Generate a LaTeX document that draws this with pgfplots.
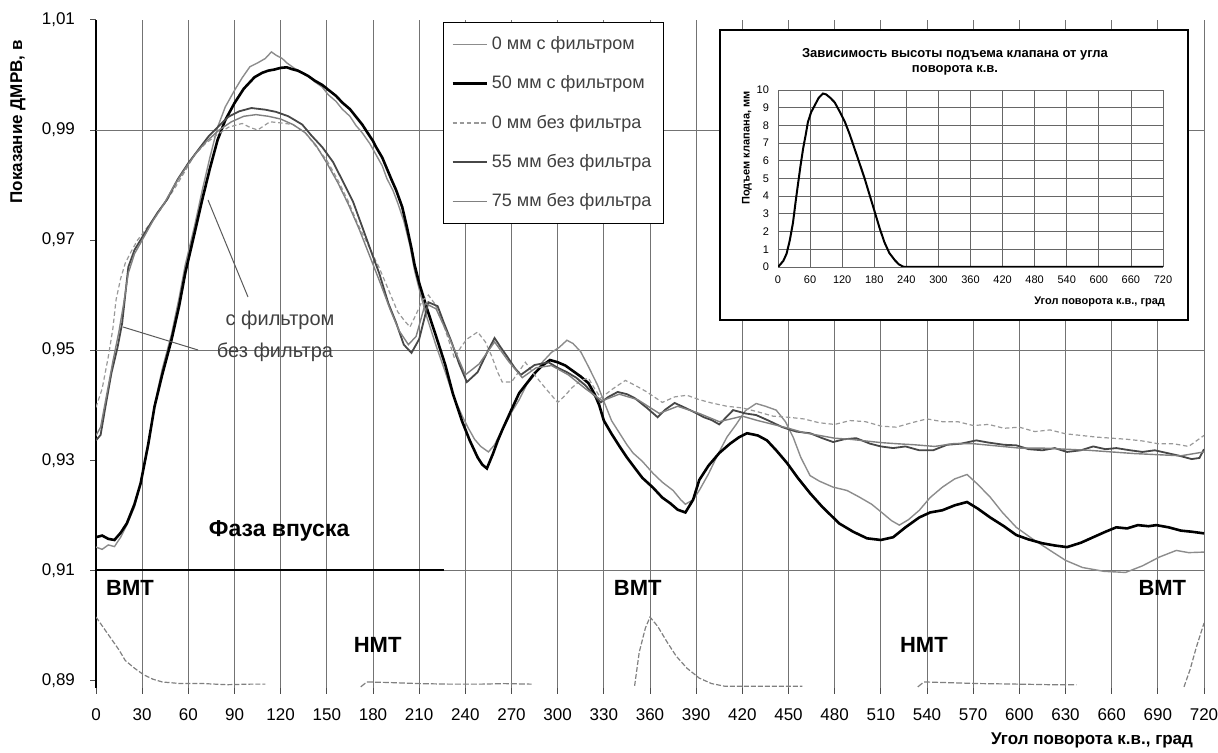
\documentclass[border=0pt]{standalone}
\usepackage{fontspec}
\setmainfont{Liberation Sans}
\usepackage{pgfplots}
\pgfplotsset{compat=1.18}
\begin{document}
\begin{tikzpicture}
\begin{axis}[
  name=main,
  at={(0pt,0pt)}, anchor=south west,
  scale only axis, width=554pt, height=334pt,
  xmin=0, xmax=720, ymin=0.8886, ymax=1.01,
  xtick={0,30,...,720},
  ytick={0.89,0.91,0.93,0.95,0.97,0.99,1.01},
  axis lines*=left,
  x axis line style={draw=none},
  y axis line style={black, line width=0.8pt},
  tick align=outside,
  major tick length=3pt,
  tick style={black!70, line width=0.5pt},
  xmajorgrids,
  grid style={black!55, line width=0.5pt},
  /pgf/number format/assume math mode=true,
  x tick label style={font=\fontsize{8.5}{10}\selectfont, yshift=-4pt, /pgf/number format/1000 sep={}},
  y tick label style={font=\fontsize{8.5}{10}\selectfont, xshift=-4pt,
     /pgf/number format/fixed, /pgf/number format/fixed zerofill,
     /pgf/number format/precision=2, /pgf/number format/use comma},
  legend style={at={(rel axis cs:0.313,0.997)}, anchor=north west, draw=black, fill=white,
     font=\fontsize{9}{10.8}\selectfont, row sep=7.6pt, inner xsep=4pt, inner ysep=5pt, text=black!75},
  legend cell align=left,
]
% horizontal grid lines
\draw[black!55, line width=0.5pt] (axis cs:0,0.99) -- (axis cs:720,0.99);
\draw[black!55, line width=0.5pt] (axis cs:0,0.95) -- (axis cs:720,0.95);
\draw[black!55, line width=0.5pt] (axis cs:0,0.91) -- (axis cs:720,0.91);

% 0 mm with filter
\addplot[black!45, line width=0.7pt] coordinates {
(0,0.9142)(4,0.9138)(8,0.9146)(12,0.9143)(16,0.9160)(20,0.9182)(25,0.9215)(29,0.9258)(34,0.9325)(38,0.9400)(43,0.9465)(49,0.9528)(54,0.9595)(58,0.9655)(64,0.9725)(69,0.9790)(74,0.9850)(79,0.9905)(84,0.9942)(90,0.9972)(95,0.9995)(100,1.0015)(105,1.0022)(110,1.0030)(114,1.0042)(117,1.0036)(121,1.0030)(124,1.0022)(129,1.0012)(134,1.0005)(138,0.9998)(142,0.9988)(147,0.9978)(151,0.9964)(156,0.9952)(160,0.9938)(165,0.9925)(169,0.9908)(173,0.9895)(178,0.9875)(182,0.9855)(186,0.9835)(189,0.9812)(193,0.9790)(196,0.9768)(200,0.9735)(204,0.9690)(207,0.9645)(211,0.9600)(215,0.9560)(221,0.9508)(227,0.9460)(232,0.9418)(238,0.9380)(242,0.9358)(246,0.9338)(250,0.9325)(255,0.9315)(259,0.9328)(262,0.9345)(266,0.9365)(270,0.9387)(275,0.9410)(280,0.9438)(285,0.9455)(290,0.9478)(296,0.9496)(301,0.9505)(306,0.9518)(310,0.9512)(315,0.9497)(320,0.9470)(326,0.9436)(331,0.9400)(335,0.9372)(340,0.9350)(345,0.9328)(349,0.9313)(355,0.9298)(362,0.9276)(368,0.9260)(375,0.9245)(380,0.9228)(383,0.9220)(388,0.9228)(392,0.9245)(398,0.9275)(404,0.9310)(410,0.9342)(416,0.9365)(422,0.9390)(429,0.9403)(435,0.9398)(442,0.9391)(448,0.9370)(453,0.9342)(458,0.9305)(464,0.9272)(470,0.9262)(479,0.9251)(488,0.9245)(496,0.9233)(504,0.9220)(511,0.9204)(517,0.9190)(522,0.9182)(528,0.9192)(535,0.9209)(542,0.9232)(550,0.9251)(558,0.9266)(566,0.9274)(573,0.9256)(581,0.9233)(589,0.9205)(598,0.9178)(608,0.9158)(620,0.9136)(630,0.9118)(641,0.9105)(655,0.9098)(669,0.9096)(680,0.9108)(691,0.9124)(702,0.9136)(710,0.9132)(720,0.9133)};
\addlegendentry{0 мм с фильтром}

% 50 mm with filter
\addplot[black, line width=1.3pt] coordinates {
(0,0.9160)(4,0.9163)(8,0.9157)(12,0.9155)(16,0.9168)(20,0.9185)(25,0.9220)(29,0.9258)(34,0.9330)(38,0.9397)(43,0.9455)(49,0.9518)(54,0.9580)(58,0.9640)(64,0.9712)(69,0.9773)(74,0.9830)(79,0.9882)(84,0.9918)(90,0.9949)(96,0.9975)(103,0.9996)(108,1.0004)(112,1.0008)(116,1.0010)(120,1.0013)(124,1.0014)(127,1.0011)(131,1.0008)(134,1.0004)(138,0.9998)(142,0.9990)(147,0.9982)(151,0.9973)(156,0.9962)(160,0.9950)(165,0.9938)(169,0.9924)(173,0.9910)(176,0.9897)(180,0.9880)(182,0.9869)(186,0.9850)(189,0.9830)(192,0.9810)(195,0.9791)(199,0.9760)(202,0.9724)(205,0.9685)(207,0.9655)(210,0.9622)(215,0.9576)(221,0.9525)(227,0.9473)(232,0.9420)(238,0.9370)(243,0.9335)(248,0.9305)(251,0.9292)(254,0.9285)(258,0.9312)(261,0.9335)(264,0.9355)(270,0.9392)(275,0.9422)(280,0.9440)(285,0.9458)(290,0.9472)(295,0.9482)(300,0.9478)(305,0.9472)(310,0.9462)(315,0.9452)(320,0.9440)(324,0.9420)(327,0.9400)(330,0.9372)(335,0.9348)(340,0.9326)(345,0.9305)(349,0.9290)(355,0.9268)(362,0.9250)(368,0.9232)(373,0.9222)(378,0.9210)(383,0.9205)(388,0.9228)(392,0.9264)(398,0.9290)(405,0.9313)(412,0.9330)(418,0.9342)(423,0.9349)(430,0.9345)(436,0.9336)(442,0.9318)(449,0.9295)(456,0.9268)(464,0.9240)(472,0.9215)(483,0.9185)(492,0.9170)(501,0.9158)(510,0.9155)(518,0.9160)(526,0.9178)(535,0.9196)(542,0.9205)(550,0.9209)(558,0.9218)(566,0.9224)(573,0.9212)(581,0.9196)(590,0.9180)(598,0.9164)(606,0.9156)(615,0.9149)(623,0.9145)(631,0.9142)(640,0.9150)(648,0.9160)(656,0.9170)(663,0.9178)(670,0.9176)(677,0.9182)(684,0.9180)(689,0.9182)(697,0.9178)(705,0.9172)(712,0.9170)(720,0.9167)};
\addlegendentry{50 мм с фильтром}

% 0 mm without filter
\addplot[black!40, line width=0.6pt, dash pattern=on 2.2pt off 1.4pt] coordinates {
(0,0.9396)(4,0.9430)(8,0.9488)(11,0.9540)(13,0.9591)(16,0.9630)(19,0.9658)(23,0.9680)(27,0.9700)(33,0.9722)(40,0.9748)(46,0.9772)(52,0.9798)(58,0.9826)(64,0.9855)(71,0.9875)(78,0.9890)(86,0.9905)(95,0.9912)(100,0.9905)(105,0.9900)(113,0.9915)(120,0.9913)(128,0.9910)(136,0.9895)(143,0.9870)(150,0.9845)(157,0.9810)(164,0.9770)(170,0.9730)(177,0.9690)(184,0.9650)(190,0.9610)(196,0.9570)(200,0.9555)(204,0.9542)(208,0.9565)(212,0.9590)(216,0.9600)(220,0.9585)(226,0.9545)(233,0.9485)(237,0.9505)(241,0.9520)(248,0.9533)(253,0.9515)(257,0.9490)(261,0.9460)(264,0.9442)(270,0.9442)(275,0.9462)(279,0.9478)(285,0.9455)(292,0.9431)(300,0.9405)(305,0.9418)(309,0.9431)(315,0.9445)(320,0.9449)(324,0.9430)(328,0.9413)(336,0.9430)(344,0.9445)(351,0.9435)(358,0.9424)(368,0.9405)(376,0.9415)(384,0.9418)(392,0.9410)(400,0.9404)(410,0.9398)(420,0.9395)(430,0.9388)(440,0.9380)(450,0.9378)(460,0.9375)(470,0.9368)(480,0.9365)(490,0.9372)(500,0.9370)(510,0.9362)(520,0.9360)(530,0.9368)(540,0.9375)(550,0.9370)(560,0.9370)(570,0.9363)(580,0.9365)(590,0.9358)(600,0.9360)(610,0.9352)(620,0.9355)(630,0.9348)(640,0.9345)(650,0.9342)(660,0.9340)(670,0.9338)(680,0.9335)(690,0.9330)(700,0.9330)(710,0.9325)(720,0.9345)};
\addlegendentry{0 мм без фильтра}

% 55 mm without filter
\addplot[black!72, line width=0.9pt] coordinates {
(0,0.9336)(3,0.9346)(6,0.9395)(10,0.9458)(14,0.9505)(17,0.9549)(19,0.9600)(21,0.9651)(25,0.9682)(30,0.9705)(35,0.9728)(40,0.9750)(46,0.9773)(53,0.9810)(60,0.9840)(67,0.9866)(73,0.9888)(80,0.9908)(86,0.9924)(93,0.9934)(101,0.9940)(110,0.9937)(117,0.9933)(125,0.9925)(134,0.9910)(140,0.9890)(147,0.9869)(154,0.9842)(160,0.9809)(167,0.9770)(173,0.9724)(180,0.9670)(184,0.9640)(190,0.9585)(195,0.9550)(200,0.9510)(205,0.9495)(210,0.9520)(216,0.9587)(222,0.9580)(226,0.9550)(231,0.9515)(236,0.9475)(241,0.9442)(248,0.9460)(254,0.9495)(259,0.9522)(263,0.9505)(268,0.9485)(272,0.9468)(276,0.9455)(285,0.9473)(294,0.9478)(300,0.9468)(306,0.9460)(312,0.9450)(318,0.9436)(323,0.9420)(328,0.9405)(333,0.9415)(339,0.9424)(345,0.9420)(350,0.9413)(358,0.9395)(365,0.9378)(370,0.9392)(376,0.9404)(383,0.9395)(389,0.9387)(395,0.9378)(400,0.9373)(405,0.9365)(414,0.9391)(422,0.9385)(429,0.9382)(437,0.9372)(446,0.9360)(455,0.9352)(464,0.9349)(472,0.9340)(479,0.9333)(486,0.9338)(494,0.9340)(503,0.9330)(510,0.9325)(518,0.9322)(526,0.9325)(535,0.9318)(544,0.9318)(553,0.9328)(562,0.9330)(572,0.9336)(580,0.9332)(590,0.9328)(598,0.9327)(606,0.9320)(615,0.9318)(623,0.9322)(631,0.9315)(640,0.9318)(648,0.9325)(656,0.9320)(663,0.9322)(672,0.9318)(680,0.9315)(688,0.9318)(696,0.9313)(704,0.9308)(712,0.9302)(717,0.9304)(720,0.9320)};
\addlegendentry{55 мм без фильтра}

% 75 mm without filter
\addplot[black!50, line width=0.7pt] coordinates {
(0,0.9345)(3,0.9360)(7,0.9420)(11,0.9480)(15,0.9535)(18,0.9585)(21,0.9640)(25,0.9675)(30,0.9700)(37,0.9735)(44,0.9765)(51,0.9800)(58,0.9830)(65,0.9858)(72,0.9880)(80,0.9900)(88,0.9915)(96,0.9925)(104,0.9928)(112,0.9925)(120,0.9920)(128,0.9910)(136,0.9895)(143,0.9872)(150,0.9840)(157,0.9805)(164,0.9765)(171,0.9720)(178,0.9670)(185,0.9620)(191,0.9575)(197,0.9535)(203,0.9510)(208,0.9525)(214,0.9585)(221,0.9575)(230,0.9520)(240,0.9455)(249,0.9475)(259,0.9515)(268,0.9480)(277,0.9450)(286,0.9468)(296,0.9472)(307,0.9455)(318,0.9430)(329,0.9408)(340,0.9420)(352,0.9410)(366,0.9385)(378,0.9398)(392,0.9385)(405,0.9370)(420,0.9380)(430,0.9372)(440,0.9365)(450,0.9358)(460,0.9350)(470,0.9345)(480,0.9340)(490,0.9338)(500,0.9335)(510,0.9332)(520,0.9330)(532,0.9328)(545,0.9325)(557,0.9330)(570,0.9330)(585,0.9326)(600,0.9322)(615,0.9322)(630,0.9320)(645,0.9318)(660,0.9315)(675,0.9312)(690,0.9310)(705,0.9308)(720,0.9315)};
\addlegendentry{75 мм без фильтра}

% intake phase line
\addplot[black, line width=1pt, forget plot] coordinates {(0,0.91)(226,0.91)};

% TDC marker curve (bottom)
\addplot[black!50, line width=0.6pt, dash pattern=on 2.5pt off 1pt, forget plot] coordinates {
(0,0.9015)(5,0.8995)(10,0.8975)(15,0.8955)(19,0.8936)(25,0.8922)(31,0.8910)(37,0.8902)(43,0.8897)(55,0.8894)(70,0.8894)(85,0.8892)(100,0.8893)(110,0.8893)};
\addplot[black!50, line width=0.6pt, dash pattern=on 3pt off 1pt, forget plot] coordinates {
(172,0.8888)(176,0.8897)(190,0.8896)(210,0.8894)(230,0.8893)(250,0.8893)(265,0.8894)(283,0.8893)};
\addplot[black!50, line width=0.6pt, dash pattern=on 2.5pt off 1pt, forget plot] coordinates {
(350,0.8890)(353,0.8951)(357,0.8995)(360,0.9015)(365,0.8998)(371,0.8970)(377,0.8944)(384,0.8922)(392,0.8904)(400,0.8894)(409,0.8889)(430,0.8889)(459,0.8889)};
\addplot[black!50, line width=0.6pt, dash pattern=on 3pt off 1pt, forget plot] coordinates {
(534,0.8888)(538,0.8897)(550,0.8896)(575,0.8894)(600,0.8893)(620,0.8892)(637,0.8892)};
\addplot[black!50, line width=0.6pt, dash pattern=on 2.5pt off 1pt, forget plot] coordinates {
(707,0.8888)(711,0.8920)(715,0.8960)(720,0.9004)};

% labels inside
\node[font=\bfseries\fontsize{11}{12}\selectfont, anchor=west] at (axis cs:2,0.9067) {ВМТ};
\node[font=\bfseries\fontsize{11}{12}\selectfont, anchor=west] at (axis cs:332,0.9067) {ВМТ};
\node[font=\bfseries\fontsize{11}{12}\selectfont, anchor=east] at (axis cs:713,0.9067) {ВМТ};
\node[font=\bfseries\fontsize{11}{12}\selectfont] at (axis cs:183,0.8964) {НМТ};
\node[font=\bfseries\fontsize{11}{12}\selectfont] at (axis cs:538,0.8964) {НМТ};
\node[font=\bfseries\fontsize{11.5}{13}\selectfont] at (axis cs:119,0.9171) {Фаза впуска};
\end{axis}

% annotations
\draw[black!65, line width=0.5pt] (76pt,195.5pt) -- (56pt,244pt);
\node[font=\fontsize{10}{12}\selectfont, text=black!75] at (92pt,184pt) {с фильтром};
\draw[black!65, line width=0.5pt] (51pt,169pt) -- (13.5pt,180.5pt);
\node[font=\fontsize{10}{12}\selectfont, text=black!75] at (89.5pt,168pt) {без фильтра};

% axis titles
\node[font=\bfseries\fontsize{8.5}{10}\selectfont, rotate=90] at (-39pt,283pt) {Показание ДМРВ, в};
\node[font=\bfseries\fontsize{8.5}{10}\selectfont, anchor=east] at (552pt,-26pt) {Угол поворота к.в., град};

% inset
\fill[white] (312pt,184pt) rectangle (546pt,329pt);
\draw[black, line width=0.8pt] (312pt,184pt) rectangle (546pt,329pt);
\begin{axis}[
  at={(341pt,210.5pt)}, anchor=south west,
  scale only axis, width=192.5pt, height=88.5pt,
  xmin=0, xmax=720, ymin=0, ymax=10,
  xtick={0,60,...,720}, ytick={0,1,...,10},
  grid=major, grid style={black!60, line width=0.4pt},
  axis line style={draw=none},
  tick style={draw=none},
  /pgf/number format/assume math mode=true,
  ticklabel style={font=\fontsize{5.5}{6}\selectfont},
  x tick label style={yshift=-1pt},
  y tick label style={xshift=-1pt},
]
\addplot[black, line width=1pt] coordinates {
(0,0)(3,0.1)(10,0.35)(16,0.75)(22,1.5)(28,2.5)(33,3.7)(37,4.6)(42,5.7)(47,6.7)(52,7.5)(56,8.2)(62,8.75)(69,9.15)(76,9.55)(84,9.8)(90,9.75)(98,9.55)(106,9.3)(115,8.8)(125,8.2)(134,7.5)(143,6.7)(152,5.9)(162,5.0)(172,4.0)(181,3.1)(190,2.2)(199,1.4)(208,0.8)(218,0.4)(226,0.15)(234,0.02)(240,0)(720,0)};
\end{axis}
\node[font=\bfseries\fontsize{6.5}{7.8}\selectfont, align=center] at (429.5pt,313pt) {Зависимость высоты подъема клапана от угла\\поворота к.в.};
\node[font=\bfseries\fontsize{5.5}{6.5}\selectfont, rotate=90] at (325.5pt,270pt) {Подъем клапана, мм};
\node[font=\bfseries\fontsize{5.5}{6.5}\selectfont, anchor=east] at (538pt,193pt) {Угол поворота к.в., град};

\pgfresetboundingbox
\useasboundingbox (-48pt,-32.5pt) rectangle (561pt,344pt);
\end{tikzpicture}
\end{document}
